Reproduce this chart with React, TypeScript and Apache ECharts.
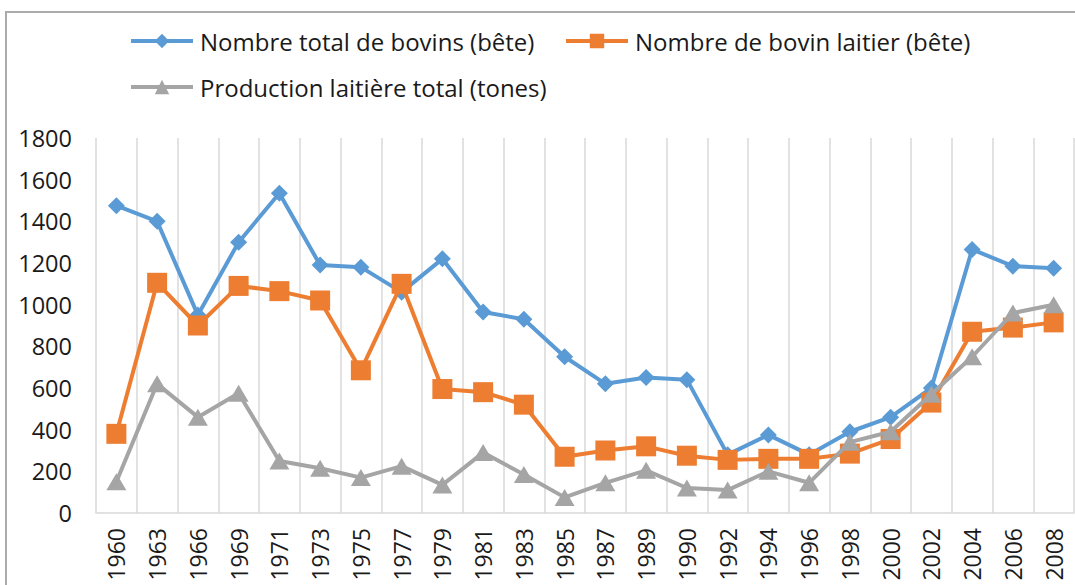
import React, { useEffect, useRef } from "react";
import * as echarts from "echarts";

const years = ["1960","1963","1966","1969","1971","1973","1975","1977","1979","1981","1983","1985","1987","1989","1990","1992","1994","1996","1998","2000","2002","2004","2006","2008"];
const totalBovins = [1475,1400,950,1300,1535,1190,1180,1060,1220,965,930,750,620,650,640,280,375,280,390,460,600,1265,1185,1175];
const bovinLaitier = [380,1105,900,1090,1065,1020,685,1100,595,580,520,270,300,320,275,255,260,260,285,355,530,870,890,915];
const productionLait = [150,620,460,575,250,215,170,225,135,290,185,75,145,205,120,110,200,145,340,390,570,750,960,1000];
const yTicks = [0, 200, 400, 600, 800, 1000, 1200, 1400, 1600, 1800];

const names = [
  "Nombre total de bovins (bête)",
  "Nombre de bovin laitier (bête)",
  "Production laitière total (tones)",
];
const colors = ["#5B9BD5", "#ED7D31", "#A5A5A5"];
const FONT = "Open Sans";

export default function App() {
  const ref = useRef<HTMLDivElement>(null);
  useEffect(() => {
    if (!ref.current) return;
    const chart = echarts.init(ref.current, null, { renderer: "svg" });
    const legendBase = {
      orient: "horizontal",
      padding: 0,
      itemWidth: 62,
      itemHeight: 18,
      itemGap: 7,
      lineStyle: { width: 4 },
      textStyle: { fontFamily: FONT, fontSize: 24, color: "#1a1a1a", lineHeight: 26, padding: [0, 0, 0, 2] },
    };
    chart.setOption({
      animation: false,
      backgroundColor: "#fff",
      color: colors,
      graphic: [
        {
          type: "rect",
          shape: { x: 6, y: 12, width: 1100, height: 620 },
          style: { fill: "none", stroke: "#ababab", lineWidth: 2 },
          silent: true,
          z: -1,
        },
      ],
      legend: [
        { ...legendBase, left: 129, top: 28, data: [names[0]] },
        { ...legendBase, left: 564, top: 28, data: [names[1]] },
        { ...legendBase, left: 129, top: 74, data: [names[2]] },
      ],
      grid: { left: 96, top: 138, width: 978, height: 375, containLabel: false },
      xAxis: {
        type: "category",
        data: years,
        boundaryGap: true,
        axisLine: { show: true, lineStyle: { color: "#d9d9d9", width: 1.5 } },
        axisTick: { show: false },
        splitLine: { show: true, lineStyle: { color: "#d9d9d9", width: 1.5 } },
        axisLabel: {
          interval: 0,
          rotate: 90,
          margin: 15,
          fontFamily: FONT,
          fontSize: 23,
          color: "#1a1a1a",
        },
      },
      yAxis: {
        type: "value",
        min: yTicks[0],
        max: yTicks[yTicks.length - 1],
        interval: 200,
        axisLine: { show: false },
        axisTick: { show: false },
        splitLine: { show: false },
        axisLabel: {
          margin: 24,
          fontFamily: FONT,
          fontSize: 23.5,
          color: "#1a1a1a",
          formatter: (v: number) => String(v),
        },
      },
      series: [
        {
          name: names[0],
          type: "line",
          data: totalBovins,
          symbol: "diamond",
          symbolSize: 17,
          lineStyle: { width: 4, color: colors[0] },
          itemStyle: { color: colors[0] },
          z: 3,
        },
        {
          name: names[1],
          type: "line",
          data: bovinLaitier,
          symbol: "rect",
          symbolSize: 20,
          lineStyle: { width: 4, color: colors[1] },
          itemStyle: { color: colors[1] },
          z: 4,
        },
        {
          name: names[2],
          type: "line",
          data: productionLait,
          symbol: "triangle",
          symbolSize: [20, 17],
          lineStyle: { width: 4, color: colors[2] },
          itemStyle: { color: colors[2] },
          z: 5,
        },
      ],
    });
    return () => chart.dispose();
  }, []);
  return (
    <div
      ref={ref}
      style={{ position: "absolute", left: 0, top: 0, width: 1075, height: 585, background: "#fff" }}
    />
  );
}
